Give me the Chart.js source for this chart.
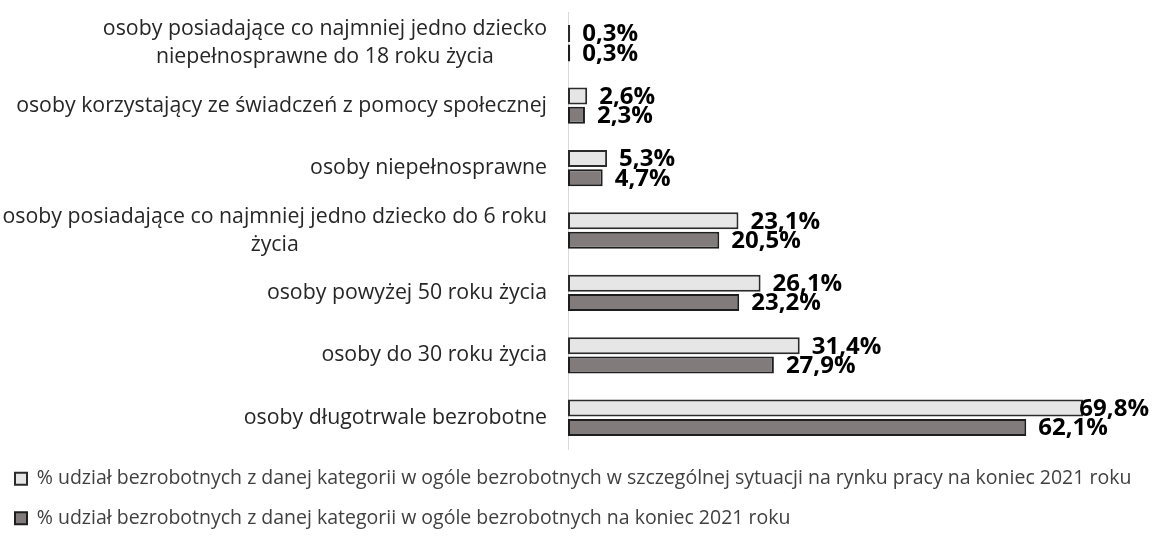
<!DOCTYPE html>
<html>
<head>
<meta charset="utf-8">
<script src="https://cdn.jsdelivr.net/npm/chart.js@4"></script>
<style>
    html, body { margin: 0; padding: 0; background: #ffffff; }
    #wrap { width: 1153px; height: 538px; }
</style>
</head>
<body>
<div id="wrap"><canvas id="js--chart"></canvas></div>
<script>
// categories, top to bottom
const categories = [
    ['osoby posiadające co najmniej jedno dziecko', 'niepełnosprawne do 18 roku życia'],
    'osoby korzystający ze świadczeń z pomocy społecznej',
    'osoby niepełnosprawne',
    ['osoby posiadające co najmniej jedno dziecko do 6 roku', 'życia'],
    'osoby powyżej 50 roku życia',
    'osoby do 30 roku życia',
    'osoby długotrwale bezrobotne'
];

const seriesNames = [
    '% udział bezrobotnych z danej kategorii w ogóle bezrobotnych w szczególnej sytuacji na rynku pracy na koniec 2021 roku',
    '% udział bezrobotnych z danej kategorii w ogóle bezrobotnych na koniec 2021 roku'
];

const shareSpecial = [0.3, 2.6, 5.3, 23.1, 26.1, 31.4, 69.8];
const shareAll = [0.3, 2.3, 4.7, 20.5, 23.2, 27.9, 62.1];

const fontName = '"Open Sans", Lato, sans-serif';

// draws "12,3%" labels next to each bar
const valueLabels = {
    id: 'valueLabels',
    afterDatasetsDraw(chart) {
        const ctx = chart.ctx;
        ctx.save();
        ctx.font = 'bold 24px ' + fontName;
        ctx.fillStyle = '#000000';
        ctx.textAlign = 'left';
        ctx.textBaseline = 'middle';
        chart.data.datasets.forEach(function (ds, i) {
            const meta = chart.getDatasetMeta(i);
            meta.data.forEach(function (bar, j) {
                const txt = ds.data[j].toFixed(1).replace('.', ',') + '%';
                const w = ctx.measureText(txt).width;
                // keep the label inside the canvas like the original does
                const x = Math.min(bar.x + 12, chart.width - w - 4);
                ctx.fillText(txt, x, bar.y + 1);
            });
        });
        ctx.restore();
    }
};

// category labels: multi-line labels centred as a block, block right-aligned
const categoryLabels = {
    id: 'categoryLabels',
    afterDraw(chart) {
        const ctx = chart.ctx;
        const yScale = chart.scales.y;
        const right = chart.chartArea.left - 21;
        const lineH = 28;
        ctx.save();
        ctx.font = '21.3px ' + fontName;
        ctx.fillStyle = '#262626';
        ctx.textBaseline = 'middle';
        categories.forEach(function (cat, i) {
            const lines = Array.isArray(cat) ? cat : [cat];
            const y = yScale.getPixelForValue(i);
            let w = 0;
            lines.forEach(function (l) { w = Math.max(w, ctx.measureText(l).width); });
            ctx.textAlign = 'center';
            lines.forEach(function (l, k) {
                const ly = y + (k - (lines.length - 1) / 2) * lineH;
                ctx.fillText(l, right - w / 2, ly);
            });
        });
        ctx.restore();
    }
};

const data = {
    labels: categories,
    datasets: [{
        label: seriesNames[0],
        data: shareSpecial,
        backgroundColor: '#e6e6e6',
        borderColor: '#2b2b2b',
        borderWidth: 2,
        borderSkipped: false,
        barPercentage: 0.88,
        categoryPercentage: 0.62
    }, {
        label: seriesNames[1],
        data: shareAll,
        backgroundColor: '#827b7b',
        borderColor: '#1e1e1e',
        borderWidth: 2,
        borderSkipped: false,
        barPercentage: 0.88,
        categoryPercentage: 0.62
    }]
};

const config = {
    type: 'bar',
    data: data,
    plugins: [valueLabels, categoryLabels],
    options: {
        indexAxis: 'y',
        responsive: true,
        maintainAspectRatio: false,
        animation: false,
        layout: {
            padding: { top: 12, right: 5, left: -5, bottom: 0 }
        },
        scales: {
            x: {
                display: false,
                min: 0,
                max: 78.6
            },
            y: {
                grid: { display: false, drawTicks: false },
                border: { display: true, color: '#d9d9d9', width: 1 },
                ticks: { display: false },
                afterFit: function (scale) { scale.width = 573; }
            }
        },
        plugins: {
            tooltip: { enabled: false },
            legend: {
                position: 'bottom',
                align: 'start',
                labels: {
                    color: '#404040',
                    font: { size: 19.5, family: fontName },
                    boxWidth: 12,
                    boxHeight: 12,
                    padding: 20,
                    useBorderRadius: false
                }
            }
        }
    }
};

new Chart(document.getElementById('js--chart'), config);
</script>
</body>
</html>
